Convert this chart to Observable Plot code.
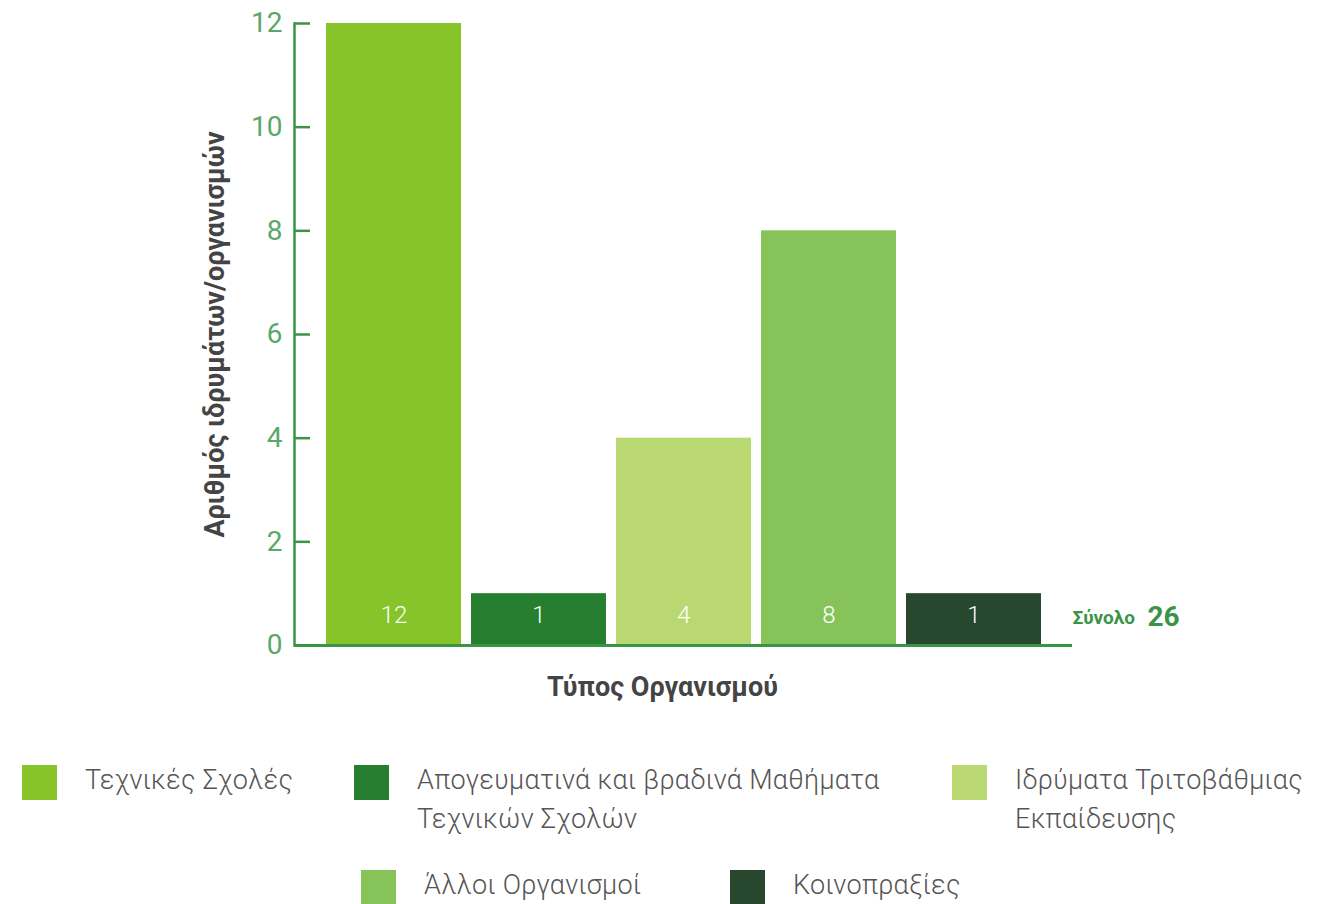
<!DOCTYPE html>
<html>
<head>
<meta charset="utf-8">
<script src="https://cdn.jsdelivr.net/npm/d3@7"></script>
<script src="https://cdn.jsdelivr.net/npm/@observablehq/plot@0.6"></script>
<style>
  body { margin: 0; background: #fff; font-family: Roboto, "Noto Sans", sans-serif; }
  #wrap { position: relative; width: 1329px; height: 904px; }
  #legend { position: absolute; left: 0; top: 0; width: 1329px; height: 904px; pointer-events: none; }
  .item { position: absolute; display: flex; align-items: flex-start; }
  .sw { width: 35px; height: 35px; flex: none; }
  .lab { font-family: Roboto, sans-serif; font-weight: 300; font-size: 27px; letter-spacing: 0.3px; line-height: 39px; color: #555; margin-top: -4px; }
</style>
</head>
<body>
<div id="wrap">
  <div id="chart"></div>
  <div id="legend"></div>
</div>
<script>
const categories = [
  "Τεχνικές Σχολές",
  "Απογευματινά και βραδινά Μαθήματα Τεχνικών Σχολών",
  "Ιδρύματα Τριτοβάθμιας Εκπαίδευσης",
  "Άλλοι Οργανισμοί",
  "Κοινοπραξίες"
];
const legendLines = [
  ["Τεχνικές Σχολές"],
  ["Απογευματινά και βραδινά Μαθήματα", "Τεχνικών Σχολών"],
  ["Ιδρύματα Τριτοβάθμιας", "Εκπαίδευσης"],
  ["Άλλοι Οργανισμοί"],
  ["Κοινοπραξίες"]
];
const values = [12, 1, 4, 8, 1];
const colors = ["#86c42a", "#257f2e", "#b9d872", "#86c45a", "#27472e"];
const yTicks = [0, 2, 4, 6, 8, 10, 12];
const yLabel = "Αριθμός ιδρυμάτων/οργανισμών";
const xLabel = "Τύπος Οργανισμού";
const totalLabel = "Σύνολο";

const data = categories.map((c, i) => ({category: c, value: values[i]}));
const total = d3.sum(values);

const W = 1329, H = 720, mL = 294, mR = 257, mT = 23, mB = 75;
const frameW = W - mL - mR;
const axisGreen = "#3a9447";

const chart = Plot.plot({
  width: W, height: H,
  marginLeft: mL, marginRight: mR, marginTop: mT, marginBottom: mB,
  style: {background: "#fff", fontFamily: "Roboto, sans-serif"},
  x: {domain: categories, paddingInner: 0.072, paddingOuter: 0.206, axis: null},
  y: {domain: [0, 12]},
  color: {domain: categories, range: colors},
  marks: [
    Plot.barY(data, {x: "category", y: "value", fill: "category"}),
    Plot.text(data, {x: "category", y: 0, text: d => String(d.value), dy: -30, fill: "#fff", fontSize: 24, fontWeight: 300}),
    Plot.frame({anchor: "left", stroke: axisGreen, strokeWidth: 2.5}),
    Plot.ruleY(yTicks, {stroke: axisGreen, strokeWidth: 2.5, insetRight: frameW - 16}),
    Plot.ruleY([0], {stroke: axisGreen, strokeWidth: 3}),
    Plot.axisY({ticks: yTicks, tickSize: 0, tickPadding: 12, fontSize: 28, fill: "#5aa868", label: null, tickFormat: d => String(d)}),
    Plot.text([yLabel], {frameAnchor: "left", dx: -79, dy: 0, rotate: -90, textAnchor: "middle", lineAnchor: "middle", fontSize: 27, fontWeight: "bold", fill: "#444", text: d => d}),
    Plot.text([xLabel], {frameAnchor: "bottom", dy: 42, dx: -21, lineAnchor: "middle", fontSize: 27, fontWeight: "bold", fill: "#444", text: d => d}),
    Plot.text([totalLabel], {frameAnchor: "bottom-right", dx: 0, dy: -28, textAnchor: "start", lineAnchor: "middle", fontSize: 19, fontWeight: "bold", fill: axisGreen, text: d => d}),
    Plot.text([total], {frameAnchor: "bottom-right", dx: 75, dy: -28, textAnchor: "start", lineAnchor: "middle", fontSize: 28, fontWeight: "bold", fill: axisGreen, text: d => String(d)})
  ]
});
document.getElementById("chart").appendChild(chart);

// legend layout (positions only; labels/colours from arrays above)
const legendPos = [[22, 765], [354, 765], [952, 765], [361, 870], [730, 870]];
const leg = document.getElementById("legend");
categories.forEach((c, i) => {
  const it = document.createElement("div");
  it.className = "item";
  it.style.left = legendPos[i][0] + "px";
  it.style.top = legendPos[i][1] + "px";
  const sw = document.createElement("div");
  sw.className = "sw";
  sw.style.background = colors[i];
  const lab = document.createElement("div");
  lab.className = "lab";
  lab.style.marginLeft = "28px";
  lab.innerHTML = legendLines[i].join("<br>");
  it.appendChild(sw); it.appendChild(lab);
  leg.appendChild(it);
});
</script>
</body>
</html>
